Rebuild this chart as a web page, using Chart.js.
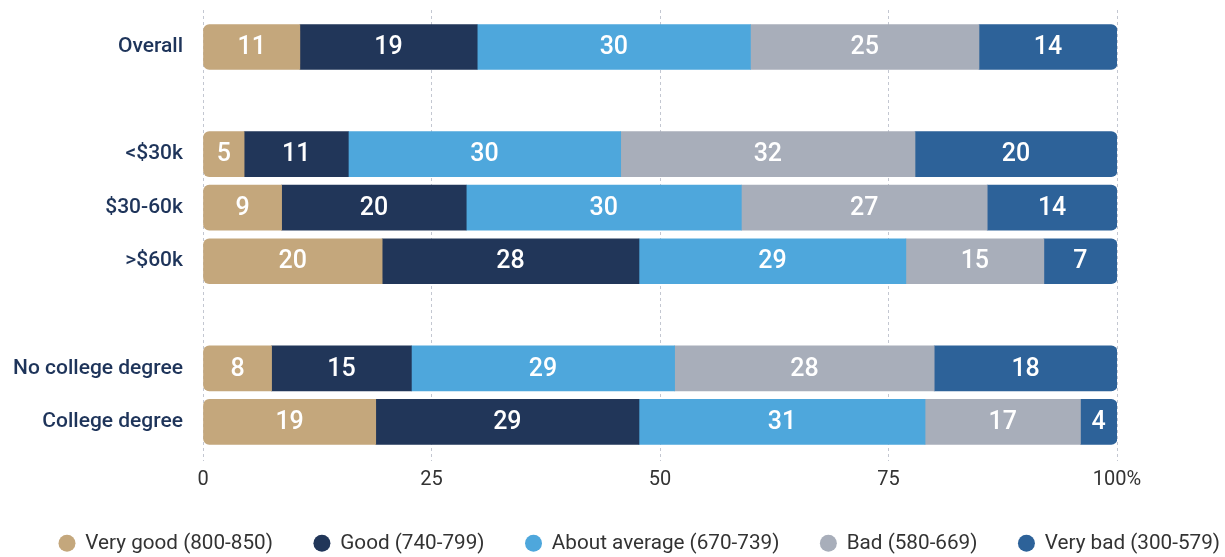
<!DOCTYPE html>
<html>
<head>
<meta charset="utf-8">
<script src="https://cdn.jsdelivr.net/npm/chart.js@4.4.1/dist/chart.umd.min.js"></script>
<style>
  html, body { margin: 0; padding: 0; background: #fff; }
</style>
</head>
<body>
<canvas id="chart" width="1225" height="557"></canvas>
<script>
const categories = ['Overall', '', '<$30k', '$30-60k', '>$60k', '', 'No college degree', 'College degree'];
const seriesNames = ['Very good (800-850)', 'Good (740-799)', 'About average (670-739)', 'Bad (580-669)', 'Very bad (300-579)'];
const xTicks = [0, 25, 50, 75, 100];

// bar lengths (%)
const veryGood = [10.6, null, 4.5, 8.6, 19.6, null, 7.5, 18.9];
const good = [19.4, null, 11.4, 20.2, 28.1, null, 15.3, 28.8];
const aboutAverage = [29.9, null, 29.8, 30.1, 29.2, null, 28.8, 31.3];
const bad = [25.0, null, 32.2, 26.9, 15.1, null, 28.4, 17.0];
const veryBad = [15.1, null, 22.1, 14.2, 8.0, null, 20.0, 4.0];

// numbers printed on the bars
const veryGoodLabels = [11, null, 5, 9, 20, null, 8, 19];
const goodLabels = [19, null, 11, 20, 28, null, 15, 29];
const aboutAverageLabels = [30, null, 30, 30, 29, null, 29, 31];
const badLabels = [25, null, 32, 27, 15, null, 28, 17];
const veryBadLabels = [14, null, 20, 14, 7, null, 18, 4];

const colors = ['#C4A77C', '#213659', '#4EA7DC', '#A8AEBA', '#2D6299'];
const navyText = '#1E345A';
const greyText = '#333333';
const font = 'Roboto';

const toPoints = values => values
  .map((v, i) => (v === null ? null : { x: v, y: i }))
  .filter(p => p !== null);

const allValues = [veryGood, good, aboutAverage, bad, veryBad];
const allLabels = [veryGoodLabels, goodLabels, aboutAverageLabels, badLabels, veryBadLabels];

const datasets = allValues.map((values, i) => {
  let radius = 0;
  if (i === 0) radius = { topLeft: 6, bottomLeft: 6, topRight: 0, bottomRight: 0 };
  if (i === allValues.length - 1) radius = { topLeft: 0, bottomLeft: 0, topRight: 6, bottomRight: 6 };
  return {
    label: seriesNames[i],
    data: toPoints(values),
    printed: allLabels[i].filter(v => v !== null),
    backgroundColor: colors[i],
    borderWidth: 0,
    borderRadius: radius,
    borderSkipped: false,
    barThickness: 45,
    stack: 'all',
    pointStyle: 'circle'
  };
});

// white numbers in the middle of each segment
const barLabels = {
  id: 'barLabels',
  afterDatasetsDraw(chart) {
    const ctx = chart.ctx;
    ctx.save();
    ctx.fillStyle = '#ffffff';
    ctx.font = '500 25px ' + font;
    ctx.textAlign = 'center';
    ctx.textBaseline = 'middle';
    chart.data.datasets.forEach((ds, di) => {
      const meta = chart.getDatasetMeta(di);
      meta.data.forEach((bar, j) => {
        const c = bar.getCenterPoint();
        ctx.fillText(String(ds.printed[j]), c.x, c.y + 1);
      });
    });
    ctx.restore();
  }
};

// legend: one row across the whole width, close to the bottom edge
const legendFit = {
  id: 'legendFit',
  beforeInit(chart) {
    const originalFit = chart.legend.fit;
    chart.legend.fit = function fit() {
      this.maxWidth = chart.width + 200;
      originalFit.bind(chart.legend)();
      this.height = 65;
    };
  },
  afterLayout(chart) {
    chart.legend.left = 0;
    chart.legend.right = 1279;
  }
};

new Chart(document.getElementById('chart'), {
  type: 'bar',
  data: { datasets },
  plugins: [barLabels, legendFit],
  options: {
    responsive: false,
    animation: false,
    indexAxis: 'y',
    layout: { padding: { top: 10, left: 0, right: 108, bottom: 0 } },
    scales: {
      x: {
        type: 'linear',
        stacked: true,
        min: 0,
        max: 100,
        afterBuildTicks: scale => { scale.ticks = xTicks.map(v => ({ value: v })); },
        afterFit: scale => { scale.height = 31; },
        ticks: {
          color: greyText,
          font: { family: font, size: 20 },
          padding: 7,
          callback: v => (v === 100 ? '100%' : v)
        },
        grid: { color: '#C3C7D1', lineWidth: 1, drawTicks: false },
        border: { display: false, dash: [3, 3] }
      },
      y: {
        type: 'linear',
        reverse: true,
        offset: false,
        min: -0.69,
        max: 7.73,
        afterBuildTicks: scale => { scale.ticks = categories.map((c, i) => ({ value: i })); },
        afterFit: scale => {
          scale.width = 203;
          scale.paddingTop = 0;
          scale.paddingBottom = 0;
        },
        ticks: {
          color: navyText,
          font: { family: font, size: 21, weight: '500' },
          padding: 20,
          callback: v => categories[v] || ''
        },
        grid: { display: false, drawTicks: false },
        border: { display: false }
      }
    },
    plugins: {
      tooltip: { enabled: false },
      legend: {
        position: 'bottom',
        labels: {
          usePointStyle: true,
          boxWidth: 16,
          boxHeight: 12,
          padding: 41,
          color: greyText,
          font: { family: font, size: 20.7 }
        }
      }
    }
  }
});
</script>
</body>
</html>
